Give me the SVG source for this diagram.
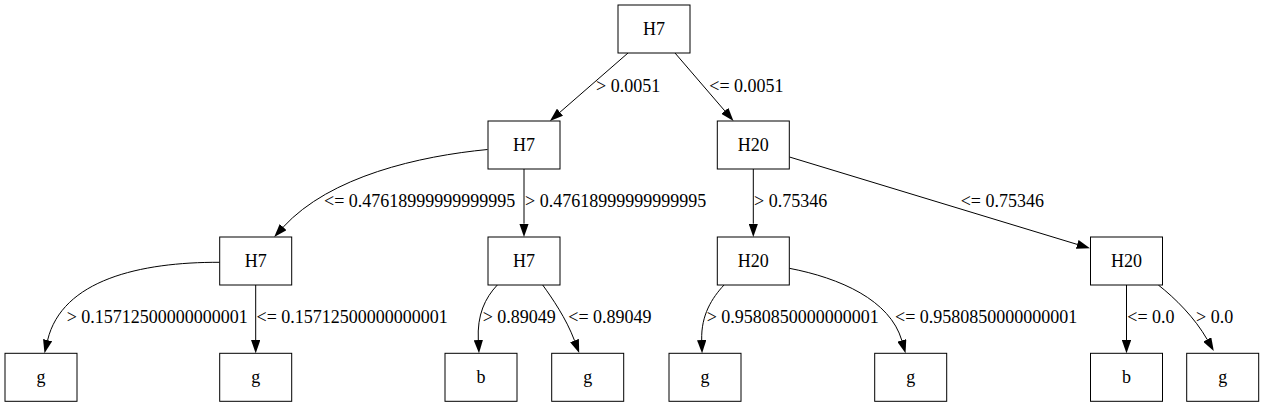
<svg xmlns="http://www.w3.org/2000/svg" width="1264" height="407" viewBox="0 0 1264 407">
<style>
.n rect{fill:#fff;stroke:#000;stroke-width:1}
.n text{text-anchor:middle;fill:#000}
.e path{fill:none;stroke:#000;stroke-width:1}
.e text{fill:#000}
text{font-family:'Liberation Serif','Times New Roman','DejaVu Serif',serif;font-size:18px}
</style>
<defs>
<marker id="ah" markerUnits="userSpaceOnUse" viewBox="0 0 13.33 9.33" refX="0" refY="4.67" markerWidth="13.33" markerHeight="9.33" orient="auto">
<path d="M0,0 L13.33,4.67 L0,9.33 z" fill="#000"/>
</marker>
</defs>
<rect width="1264" height="407" fill="#fff"/>
<g id="connectors" class="e" font-family="Liberation Serif, Times New Roman, serif">
<path d="M628,53 L560,112.2" marker-end="url(#ah)"/>
<text x="596" y="91.5">&gt; 0.0051</text>
<path d="M675,53 L724.8,110.9" marker-end="url(#ah)"/>
<text x="709.3" y="91.5">&lt;= 0.0051</text>
<path d="M487.5,149.5 C420,156 330,176 283.2,227.1" marker-end="url(#ah)"/>
<text x="324" y="206.5">&lt;= 0.47618999999999995</text>
<path d="M524,169 L524,223.7" marker-end="url(#ah)"/>
<text x="525" y="206.5">&gt; 0.47618999999999995</text>
<path d="M753.3,169 L753.3,223.7" marker-end="url(#ah)"/>
<text x="754" y="206.5">&gt; 0.75346</text>
<path d="M789.5,157 L1077.2,244.4" marker-end="url(#ah)"/>
<text x="960.7" y="206.5">&lt;= 0.75346</text>
<path d="M219.7,262.3 C140,262 62,280 47.6,340.2" marker-end="url(#ah)"/>
<text x="66.7" y="323.3">&gt; 0.15712500000000001</text>
<path d="M255.7,285 L255.7,340" marker-end="url(#ah)"/>
<text x="256.5" y="323.3">&lt;= 0.15712500000000001</text>
<path d="M497.3,285 C485,298 477,315 478.3,340" marker-end="url(#ah)"/>
<text x="482.7" y="323.3">&gt; 0.89049</text>
<path d="M542.7,285 C552,298 566,318 574.5,340.5" marker-end="url(#ah)"/>
<text x="568.3" y="323.3">&lt;= 0.89049</text>
<path d="M724,285 C712,298 701,315 701.7,340" marker-end="url(#ah)"/>
<text x="706.7" y="323.3">&gt; 0.9580850000000001</text>
<path d="M789.3,268.3 C840,278 890,300 901.8,340.4" marker-end="url(#ah)"/>
<text x="895" y="323.3">&lt;= 0.9580850000000001</text>
<path d="M1126.5,285 L1126.5,340" marker-end="url(#ah)"/>
<text x="1127.3" y="323.3">&lt;= 0.0</text>
<path d="M1158.3,285 C1175,298 1195,318 1207.2,339.5" marker-end="url(#ah)"/>
<text x="1196" y="323.3">&gt; 0.0</text>
</g>
<g id="n_root" class="n"><rect x="618" y="5" width="72" height="48"/><text x="654" y="34.5">H7</text></g>
<g id="n_h7_l" class="n"><rect x="488" y="121" width="72" height="48"/><text x="524" y="150.5">H7</text></g>
<g id="n_h20_r" class="n"><rect x="717.3" y="121" width="72" height="48"/><text x="753.3" y="150.5">H20</text></g>
<g id="n_h7_ll" class="n"><rect x="219.7" y="237" width="72" height="48"/><text x="255.7" y="266.5">H7</text></g>
<g id="n_h7_lr" class="n"><rect x="488" y="237" width="72" height="48"/><text x="524" y="266.5">H7</text></g>
<g id="n_h20_rl" class="n"><rect x="717.3" y="237" width="72" height="48"/><text x="753.3" y="266.5">H20</text></g>
<g id="n_h20_rr" class="n"><rect x="1090.5" y="237" width="72" height="48"/><text x="1126.5" y="266.5">H20</text></g>
<g id="n_leaf1" class="n"><rect x="5" y="353.3" width="72" height="48"/><text x="41" y="382.8">g</text></g>
<g id="n_leaf2" class="n"><rect x="219.7" y="353.3" width="72" height="48"/><text x="255.7" y="382.8">g</text></g>
<g id="n_leaf3" class="n"><rect x="445" y="353.3" width="72" height="48"/><text x="481" y="382.8">b</text></g>
<g id="n_leaf4" class="n"><rect x="551.7" y="353.3" width="72" height="48"/><text x="587.7" y="382.8">g</text></g>
<g id="n_leaf5" class="n"><rect x="669" y="353.3" width="72" height="48"/><text x="705" y="382.8">g</text></g>
<g id="n_leaf6" class="n"><rect x="874.7" y="353.3" width="72" height="48"/><text x="910.7" y="382.8">g</text></g>
<g id="n_leaf7" class="n"><rect x="1090.5" y="353.3" width="72" height="48"/><text x="1126.5" y="382.8">b</text></g>
<g id="n_leaf8" class="n"><rect x="1186.7" y="353.3" width="72" height="48"/><text x="1222.7" y="382.8">g</text></g>
</svg>
